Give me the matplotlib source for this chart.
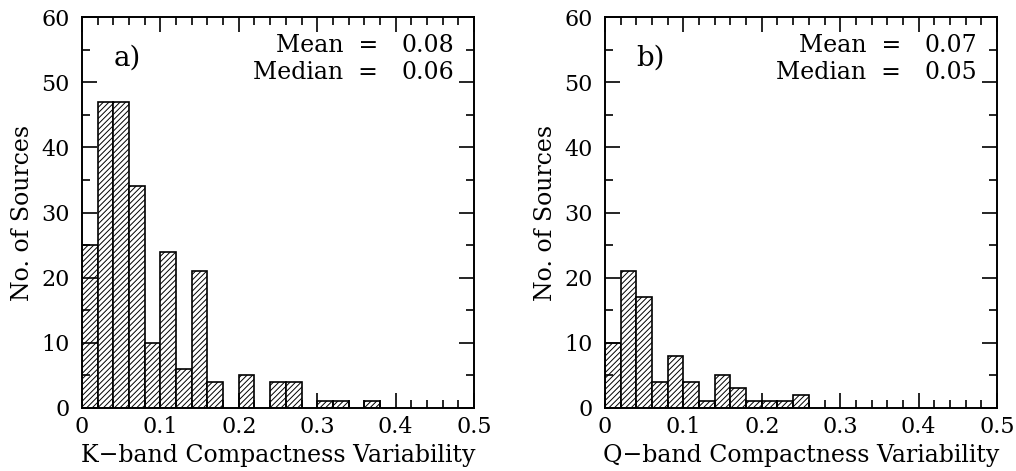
import matplotlib
matplotlib.use("Agg")
import matplotlib.pyplot as plt
import numpy as np
from matplotlib.ticker import MultipleLocator

plt.rcParams['hatch.linewidth'] = 0.7
plt.rcParams['font.family'] = 'DejaVu Serif'

bin_width = 0.02
k_counts = [25, 47, 47, 34, 10, 24, 6, 21, 4, 0, 5, 0, 4, 4, 0, 1, 1, 0, 1]
q_counts = [10, 21, 17, 4, 8, 4, 1, 5, 3, 1, 1, 1, 2]
k_stats = ("0.08", "0.06")
q_stats = ("0.07", "0.05")
panel_labels = ["a)", "b)"]
xlabels = ["K\u2212band Compactness Variability", "Q\u2212band Compactness Variability"]

fig = plt.figure(figsize=(10.16, 4.71), dpi=100)
W, H = 1016, 471
axes = [fig.add_axes([82 / W, 1 - 408 / H, 392 / W, 391 / H]),
        fig.add_axes([605 / W, 1 - 408 / H, 392 / W, 391 / H])]

fs = 17
for ax, counts, stats, lab, xl in zip(axes, [k_counts, q_counts], [k_stats, q_stats], panel_labels, xlabels):
    edges = np.arange(len(counts)) * bin_width
    for e, c in zip(edges, counts):
        if c > 0:
            ax.bar(e, c, width=bin_width, align='edge', facecolor='white',
                   edgecolor='black', hatch='//////', linewidth=1.2)
    ax.set_xlim(0, 0.5)
    ax.set_ylim(0, 60)
    ax.xaxis.set_minor_locator(MultipleLocator(0.02))
    ax.yaxis.set_major_locator(MultipleLocator(10))
    ax.yaxis.set_minor_locator(MultipleLocator(5))
    ax.tick_params(which='both', direction='in', top=True, right=True, width=1.2, labelsize=16)
    ax.tick_params(axis='x', pad=6)
    ax.tick_params(axis='y', pad=9)
    ax.tick_params(which='major', length=11)
    ax.tick_params(which='minor', length=5.5)
    ax.set_xticks(np.arange(0, 0.51, 0.1))
    ax.set_xticklabels(['0', '0.1', '0.2', '0.3', '0.4', '0.5'])
    for s in ax.spines.values():
        s.set_linewidth(1.4)
    ax.set_xlabel(xl, fontsize=fs, labelpad=4)
    ax.set_ylabel("No. of Sources", fontsize=fs, labelpad=5)
    ax.text(0.08, 0.895, lab, transform=ax.transAxes, fontsize=fs + 3, ha='left', va='center')
    ax.text(0.755, 0.928, "Mean  =", transform=ax.transAxes, fontsize=fs, ha='right', va='center')
    ax.text(0.95, 0.928, stats[0], transform=ax.transAxes, fontsize=fs, ha='right', va='center')
    ax.text(0.755, 0.859, "Median  =", transform=ax.transAxes, fontsize=fs, ha='right', va='center')
    ax.text(0.95, 0.859, stats[1], transform=ax.transAxes, fontsize=fs, ha='right', va='center')

fig.savefig("out.png", dpi=100)
